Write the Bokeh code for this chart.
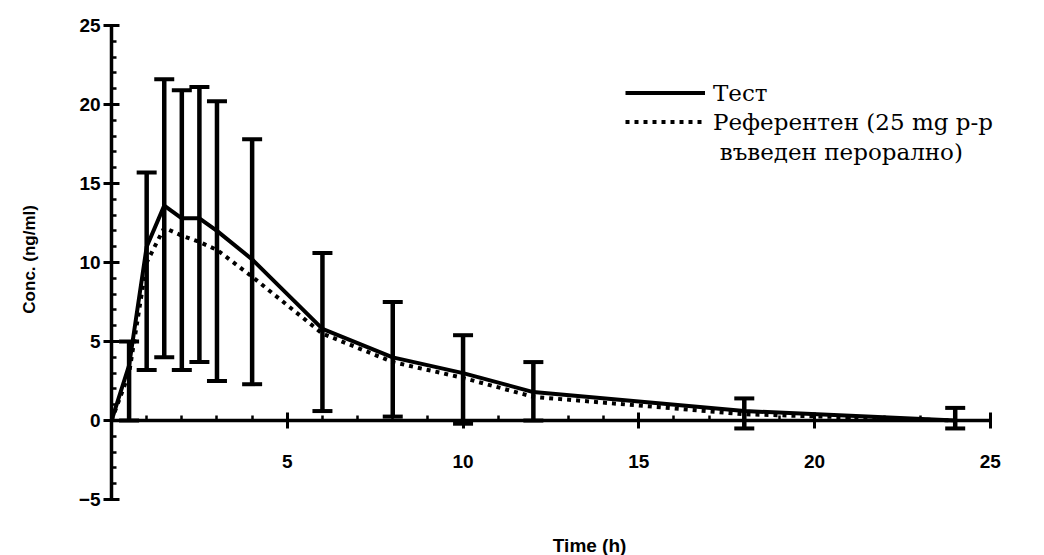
from bokeh.plotting import figure
from bokeh.models import (LinearAxis, Whisker, TeeHead, ColumnDataSource, Legend,
                          LegendItem, Label, Range1d, FixedTicker)
from bokeh.embed import file_html
from bokeh.resources import INLINE

# ---- data ----
time = [0, 0.5, 1, 1.5, 2, 2.5, 3, 4, 6, 8, 10, 12, 18, 24]
test_mean = [0, 3.5, 11.0, 13.6, 12.8, 12.8, 12.0, 10.2, 5.8, 4.0, 3.0, 1.8, 0.6, 0.0]
ref_mean = [0, 3.0, 10.0, 12.2, 11.7, 11.3, 10.8, 9.1, 5.5, 3.7, 2.7, 1.5, 0.4, 0.0]

err_time = [0.5, 1, 1.5, 2, 2.5, 3, 4, 6, 8, 10, 12, 18, 24]
err_upper = [5.0, 15.7, 21.6, 20.9, 21.1, 20.2, 17.8, 10.6, 7.5, 5.4, 3.7, 1.4, 0.8]
err_lower = [0.0, 3.2, 4.0, 3.2, 3.7, 2.5, 2.3, 0.6, 0.25, -0.2, 0.0, -0.5, -0.5]

x_ticks = [0, 5, 10, 15, 20, 25]
y_ticks = [-5, 0, 5, 10, 15, 20, 25]

legend_labels = ["Тест", "Референтен (25 mg p-p"]
legend_extra = "въведен перорално)"
x_title = "Time (h)"
y_title = "Conc. (ng/ml)"

# ---- figure (frame fills the canvas; axes sit inside at x=0 / y=0) ----
W, H = 1044, 555
p = figure(width=W, height=H, output_backend="svg", toolbar_location=None,
           x_range=Range1d(-3.158, 26.54), y_range=Range1d(-8.54, 26.58),
           x_axis_location=None, y_axis_location=None,
           min_border_left=0, min_border_right=0, min_border_top=0, min_border_bottom=0)
p.grid.visible = False
p.outline_line_color = None
p.background_fill_color = "white"
p.border_fill_color = "white"

tick_font = "Liberation Sans"

xaxis = LinearAxis(fixed_location=0, bounds=(0, 25),
                   ticker=FixedTicker(ticks=x_ticks, minor_ticks=list(range(0, 26))))
xaxis.major_label_overrides = {0: ""}
yaxis = LinearAxis(fixed_location=0, bounds=(-5, 25),
                   ticker=FixedTicker(ticks=y_ticks, minor_ticks=list(range(-5, 26))))
for ax in (xaxis, yaxis):
    ax.axis_line_width = 3.5
    ax.axis_line_color = "black"
    ax.major_tick_line_width = 3
    ax.minor_tick_line_width = 2.5
    ax.major_tick_in = 8
    ax.major_tick_out = 8
    ax.minor_tick_in = 5
    ax.minor_tick_out = 0
    ax.major_label_text_font = tick_font
    ax.major_label_text_font_style = "bold"
    ax.major_label_text_font_size = "19px"
    ax.major_label_text_color = "black"
xaxis.major_label_standoff = 26
yaxis.major_label_standoff = 3
p.add_layout(xaxis, "below")
p.add_layout(yaxis, "left")

# ---- error bars ----
esrc = ColumnDataSource(dict(t=err_time, up=err_upper, lo=err_lower))
wh = Whisker(source=esrc, base="t", upper="up", lower="lo", line_width=4.5, line_color="black",
             upper_head=TeeHead(size=20, line_width=4, line_color="black"),
             lower_head=TeeHead(size=20, line_width=4, line_color="black"))
p.add_layout(wh)

# ---- lines ----
src = ColumnDataSource(dict(t=time, test=test_mean, ref=ref_mean))
r_test = p.line("t", "test", source=src, line_width=4, line_color="black")
r_ref = p.line("t", "ref", source=src, line_width=4, line_color="black", line_dash="4 5")

legend = Legend(items=[LegendItem(label=legend_labels[0], renderers=[r_test]),
                       LegendItem(label=legend_labels[1], renderers=[r_ref])],
                location=(625, 419), orientation="vertical",
                label_text_font="DejaVu Serif", label_text_font_size="23px",
                label_text_color="black", glyph_width=80, glyph_height=29,
                label_height=29, label_standoff=8, spacing=0, padding=0, margin=0,
                border_line_alpha=0, background_fill_alpha=0)
p.add_layout(legend)

p.add_layout(Label(x=17.3, y=17.0, text=legend_extra, text_font="DejaVu Serif",
                   text_font_size="23px", text_baseline="middle", text_color="black"))

# axis titles
p.add_layout(Label(x=13.6, y=-7.9, text=x_title, text_font=tick_font, text_font_style="bold",
                   text_font_size="19px", text_align="center", text_baseline="middle",
                   text_color="black"))
p.add_layout(Label(x=-2.33, y=10.2, text=y_title, text_font=tick_font, text_font_style="bold",
                   text_font_size="17px", text_align="center", text_baseline="middle",
                   angle=1.5708, text_color="black"))

open("out.html", "w").write(file_html(p, INLINE))
